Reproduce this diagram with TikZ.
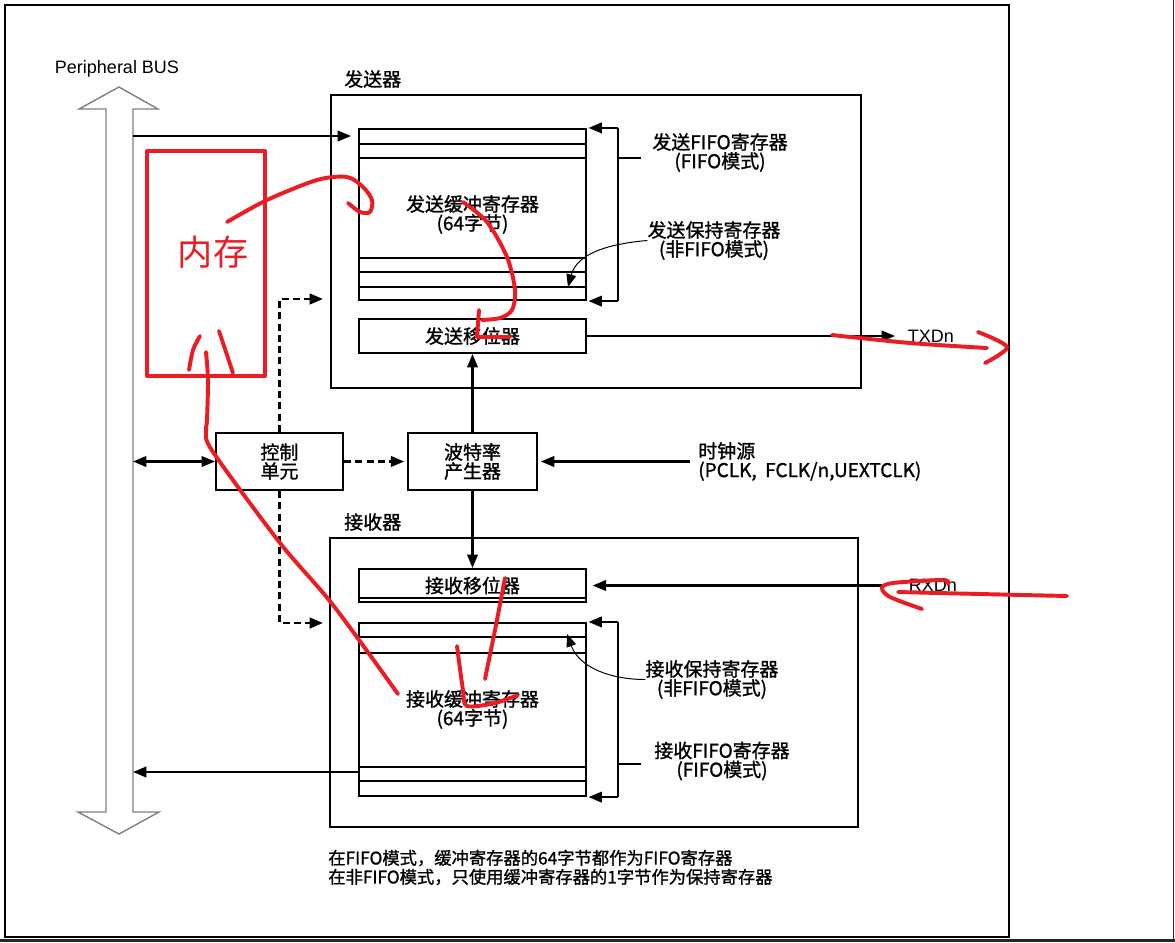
\documentclass[tikz,border=0pt]{standalone}
\usepackage{fontspec}
\setmainfont{Noto Sans CJK SC}[BoldFont={Noto Sans CJK SC}, BoldFeatures={FakeBold=1.2}]
\newfontfamily\arialfont{Liberation Sans}
\newfontfamily\penfont{Noto Sans CJK SC}
\usepackage{tikz}
\usetikzlibrary{positioning,arrows.meta}
\definecolor{busgray}{HTML}{7F7F7F}
\definecolor{penred}{HTML}{EC1C24}
\newcommand{\lblfont}{\bfseries\fontsize{13.5}{13.5}\selectfont}
\newcommand{\notefont}{\bfseries\fontsize{12.3}{13.5}\selectfont}
\newcommand{\sigfont}{\arialfont\fontsize{12.8}{14}\selectfont}

\begin{document}
\begin{tikzpicture}[x=0.025cm, y=-0.025cm,
  blk/.style={
    draw, line width=1.5pt, inner sep=0pt, align=center,
    font=\lblfont
  },
  lbl/.style={align=center, inner sep=0pt, font=\lblfont},
  arr/.style={-{Triangle[length=9.5pt,width=7.5pt]}, line width=1.5pt},
  dblarr/.style={{Triangle[length=9.5pt,width=7.5pt]}-{Triangle[length=9.5pt,width=7.5pt]}, line width=1.5pt},
  dasharr/.style={arr, line width=1.8pt, dash pattern=on 5pt off 3pt},
  thinarr/.style={-{Triangle[length=9pt,width=7pt]}, line width=0.7pt},
  pen/.style={draw=penred, line width=2.8pt, line cap=round, line join=round}
]
\useasboundingbox (0,0) rectangle (1175,942);
\draw[line width=1.5pt] (5,5) rectangle (1009,937);
\draw[line width=1.6pt, black!85] (0,940.5) -- (1175,940.5);
\draw[line width=1.2pt, black!85] (1173.5,0) -- (1173.5,942);

% bus
\draw[busgray, line width=1pt] (106,109) -- (79,109) -- (119,87) -- (158,109) -- (133,109)
  -- (133,812) -- (159,812) -- (119,834) -- (78,812) -- (106,812) -- cycle;
\node[font=\sigfont] (buslbl) at (117,69) {Peripheral BUS};
\coordinate (busR) at (133,0);

% transmitter
\node[blk, minimum width=13.25cm, minimum height=7.325cm] (txunit) at (596,241.5) {};
\node[lbl, anchor=west] (txlbl) at (344,79) {发送器};
\node[blk, minimum width=5.675cm, minimum height=4.275cm] (txbuf) at (472.5,214.5) {发送缓冲寄存器\\(64字节)};
\node[blk, minimum width=5.675cm, minimum height=0.85cm] (txshift) at (472.5,336) {发送移位器};
\foreach \yy in {144,158,258,272,287}
  \draw[line width=1.5pt] (txbuf.west |- 0,\yy) -- (txbuf.east |- 0,\yy);

% control and baud rate
\node[blk, minimum width=3.175cm, minimum height=1.425cm] (ctrl) at (279.5,461.5) {控制\\单元};
\node[blk, minimum width=3.225cm, minimum height=1.425cm] (baud) at (472.5,461.5) {波特率\\产生器};

% receiver
\node[blk, minimum width=13.2cm, minimum height=7.225cm] (rxunit) at (594,682.5) {};
\node[lbl, anchor=west] (rxlbl) at (344,522) {接收器};
\node[blk, minimum width=5.675cm, minimum height=0.825cm] (rxshift) at (472.5,585.5) {接收移位器};
\node[blk, minimum width=5.675cm, minimum height=4.325cm] (rxbuf) at (472.5,709.5) {接收缓冲寄存器\\(64字节)};
\draw[line width=1pt] (rxshift.west |- 0,598) -- (rxshift.east |- 0,598);
\foreach \yy in {637,653,767,781}
  \draw[line width=1.5pt] (rxbuf.west |- 0,\yy) -- (rxbuf.east |- 0,\yy);

% free ends
\coordinate (txin) at (351,136);
\coordinate (txctl) at (323,299);
\coordinate (rxctl) at (323,623);
\coordinate (clk) at (690,461.5);
\coordinate (txd) at (895,336);
\coordinate (rxd) at (882,585.5);
\coordinate (brk) at (618,0);
\coordinate (txhd) at (568,287);
\coordinate (rxhd) at (567,634);

% connectors
\draw[arr] (busR |- txin) -- (txin);
\draw[dasharr] (ctrl.north) |- (txctl);
\draw[dasharr] (ctrl.south) |- (rxctl);
\draw[dblarr] (busR |- ctrl.west) -- (ctrl.west);
\draw[dasharr, shorten >=2pt] (ctrl) -- (baud);
\draw[arr] (baud) -- (txshift);
\draw[arr] (baud) -- (rxshift);
\draw[arr, shorten >=2pt] (clk) -- (baud);
\node[lbl, anchor=west, align=left] (clklbl) at (698,461.5) {时钟源\\(PCLK,\ \ FCLK/n,UEXTCLK)};
\draw[arr] (txshift) -- (txd);
\node[font=\sigfont, anchor=west] (txdlbl) at (903,336) {TXDn};
\draw[arr, shorten >=4pt] (rxd) -- (rxshift);
\node[font=\sigfont, anchor=west] (rxdlbl) at (904,585) {RXDn};
\draw[arr] (rxbuf.west |- 0,772) -- (busR |- 0,772);

% FIFO brackets
\draw[arr, shorten >=1pt] (brk |- txbuf.north) -- (txbuf.north east);
\draw[arr, shorten >=1pt] (brk |- txbuf.south) -- (txbuf.south east);
\draw[line width=1.5pt] (brk |- txbuf.north) -- (brk |- txbuf.south);
\draw[line width=1.5pt] (brk |- 0,158) -- (641,158);
\node[lbl] (txfifo) at (720,152.5) {发送FIFO寄存器\\(FIFO模式)};
\node[lbl] (txhold) at (714,240.5) {发送保持寄存器\\(非FIFO模式)};
\draw[thinarr] (txhold.west) to[out=185, in=75] (txhd);

\draw[arr, shorten >=1pt] (brk |- rxbuf.north) -- (rxbuf.north east);
\draw[arr, shorten >=1pt] (brk |- rxbuf.south) -- (rxbuf.south east);
\draw[line width=1.5pt] (brk |- rxbuf.north) -- (brk |- rxbuf.south);
\draw[line width=1.5pt] (brk |- 0,764) -- (641,764);
\node[lbl] (rxfifo) at (722,761) {接收FIFO寄存器\\(FIFO模式)};
\node[lbl] (rxhold) at (712,679.5) {接收保持寄存器\\(非FIFO模式)};
\draw[thinarr] (rxhold.west) to[out=180, in=-70] (rxhd);

\node[anchor=west, align=left, inner sep=0pt, font=\notefont] (note) at (328,867.5)
  {在FIFO模式，缓冲寄存器的64字节都作为FIFO寄存器\\在非FIFO模式，只使用缓冲寄存器的1字节作为保持寄存器};

% red pen notes
\draw[pen] (147,151) rectangle (265,376);
\node[text=penred, font=\penfont\fontsize{25}{25}\selectfont] (mem) at (213,252) {内存};
\draw[pen] plot[smooth] coordinates {(227,222) (267,200) (317,180) (347,177) (363,187) (372,200) (370,212) (360,212) (348,203)};
\draw[pen] plot[smooth] coordinates {(463,202) (487,222) (507,257) (515,290) (512,310) (500,318) (482,320)};
\draw[pen] (479,310) -- (477,337) -- (510,337);
\draw[pen] plot[smooth] coordinates {(200,336) (193,350) (189,370)};
\draw[pen] (219,331) -- (233,373);
\draw[pen] plot[smooth] coordinates {(206,352) (208,380) (207,420) (206,432) (213,452) (280,543) (333,605) (398,694)};
\draw[pen] plot[smooth] coordinates {(505,578) (495,630) (485,679)};
\draw[pen] plot[smooth] coordinates {(457,646) (463,690) (467,706) (495,703) (518,695)};
\draw[pen] plot[smooth] coordinates {(832,335) (910,343) (987,348)};
\draw[pen] plot[smooth] coordinates {(978,332) (1007,347) (985,363)};
\draw[pen] plot[smooth] coordinates {(1067,596) (980,594) (898,592)};
\draw[pen] plot[smooth] coordinates {(922,609) (890,597) (882,588) (893,583) (943,580) (948,584)};
\end{tikzpicture}
\end{document}
